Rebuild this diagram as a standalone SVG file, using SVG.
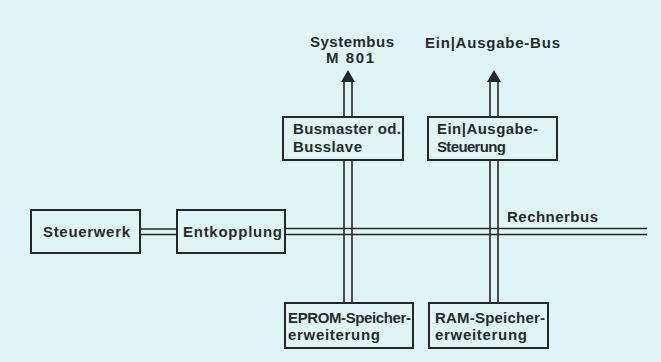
<svg xmlns="http://www.w3.org/2000/svg" width="661" height="362" viewBox="0 0 661 362">
<style>
.box{fill:none;stroke:#262626;stroke-width:2}
.ln{stroke:#262626;stroke-width:1.6;fill:none}
.t{font-family:"Liberation Sans",Arial,sans-serif;font-size:15px;font-weight:bold;fill:#2a2a2a}
.ah{fill:#262626}
</style>
<rect x="0" y="0" width="661" height="362" fill="#dff4f5"/>
<g id="connectors">
<path class="ln" d="M140 229H177M140 234.5H177"/>
<path class="ln" d="M285 228.5H647M285 234.5H647"/>
<path class="ln" d="M344 82V117M352 82V117M344 160V303M352 160V303"/>
<path class="ln" d="M490 82V117M498 82V117M490 160V303M498 160V303"/>
<polygon class="ah" points="348,70 341,82 355,82"/>
<polygon class="ah" points="494,70 487,82 501,82"/>
</g>
<g id="systembus"><text class="t" x="310" y="47" textLength="84" lengthAdjust="spacing">Systembus</text><text class="t" x="326" y="63" textLength="48" lengthAdjust="spacing">M 801</text></g>
<g id="eabus"><text class="t" x="425" y="48" textLength="135" lengthAdjust="spacing">Ein|Ausgabe-Bus</text></g>
<g id="rechnerbus"><text class="t" x="507" y="222" textLength="91" lengthAdjust="spacing">Rechnerbus</text></g>
<g id="steuerwerk"><rect class="box" x="31" y="210" width="109" height="43"/><text class="t" x="43" y="237" textLength="87" lengthAdjust="spacing">Steuerwerk</text></g>
<g id="entkopplung"><rect class="box" x="177" y="210" width="108" height="43"/><text class="t" x="183" y="237" textLength="99" lengthAdjust="spacing">Entkopplung</text></g>
<g id="busmaster"><rect class="box" x="283" y="117" width="120" height="43"/><text class="t" x="293" y="134" textLength="108" lengthAdjust="spacing">Busmaster od.</text><text class="t" x="293" y="152" textLength="69" lengthAdjust="spacing">Busslave</text></g>
<g id="easteuerung"><rect class="box" x="428" y="117" width="129" height="43"/><text class="t" x="437" y="134" textLength="101" lengthAdjust="spacing">Ein|Ausgabe-</text><text class="t" x="437" y="152" textLength="69" lengthAdjust="spacing">Steuerung</text></g>
<g id="eprom"><rect class="box" x="285" y="303" width="128" height="45"/><text class="t" x="288" y="323" textLength="123" lengthAdjust="spacing">EPROM-Speicher-</text><text class="t" x="288" y="340" textLength="92" lengthAdjust="spacing">erweiterung</text></g>
<g id="ram"><rect class="box" x="429" y="303" width="119" height="45"/><text class="t" x="435" y="323" textLength="110" lengthAdjust="spacing">RAM-Speicher-</text><text class="t" x="435" y="340" textLength="92" lengthAdjust="spacing">erweiterung</text></g>
</svg>
